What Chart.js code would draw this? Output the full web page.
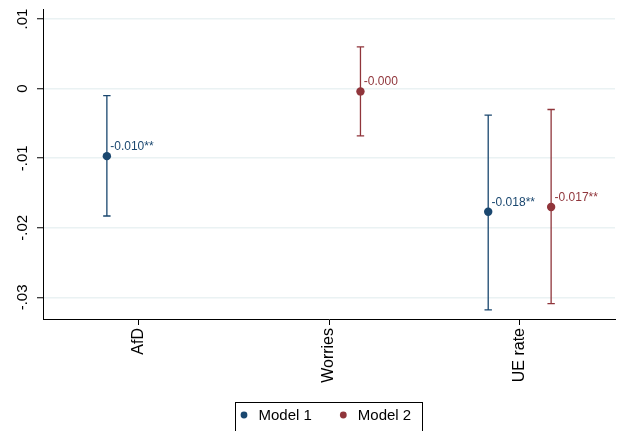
<!DOCTYPE html>
<html>
<head>
<meta charset="utf-8">
<script src="https://cdn.jsdelivr.net/npm/chart.js@4"></script>
<style>
  html, body { margin: 0; padding: 0; background: #fff; }
  #wrap { width: 620px; height: 431px; position: relative; }
</style>
</head>
<body>
<div id="wrap"><canvas id="coefChart"></canvas></div>
<script>
'use strict';

// ===== DATA =====
const categories = ['AfD', 'Worries', 'UE rate'];
const seriesNames = ['Model 1', 'Model 2'];

// point estimates, null where the model has no coefficient
const model1Coef = [-0.0097, null, -0.0177];
const model2Coef = [null, -0.0004, -0.0170];

// 95% confidence bounds
const model1Low  = [-0.0183, null, -0.0318];
const model1High = [-0.0010, null, -0.0038];
const model2Low  = [null, -0.0068, -0.0309];
const model2High = [null, 0.0060, -0.0030];

// text printed beside each point
const model1Text = ['-0.010**', null, '-0.018**'];
const model2Text = [null, '-0.000', '-0.017**'];

const yTicks = [-0.03, -0.02, -0.01, 0, 0.01];

// ===== STYLE =====
const FONT = '"Liberation Sans", Arial, sans-serif';
const COLORS = ['#1a476f', '#90353b'];
const GRID = '#eaf2f3';
const GROUP_SHIFT = 0.165;   // horizontal dodge of each model inside a category

const models = [
  { coef: model1Coef, low: model1Low, high: model1High, text: model1Text },
  { coef: model2Coef, low: model2Low, high: model2High, text: model2Text }
];

function xFor(i, m) {
  return i + 1 + (m === 0 ? -GROUP_SHIFT : GROUP_SHIFT);
}

const datasets = models.map((mod, m) => ({
  label: seriesNames[m],
  data: categories
    .map((_, i) => mod.coef[i] == null ? null : { x: xFor(i, m), y: mod.coef[i] })
    .filter(p => p),
  backgroundColor: COLORS[m],
  borderWidth: 0,
  pointRadius: 4.2,
  pointHoverRadius: 4.2
}));

// ===== PLUGINS =====
// error bars, drawn under the points
const errorBars = {
  id: 'errorBars',
  beforeDatasetsDraw(chart) {
    const { ctx, scales: { x, y } } = chart;
    ctx.save();
    ctx.lineWidth = 1.3;
    models.forEach((mod, m) => {
      ctx.strokeStyle = COLORS[m];
      categories.forEach((_, i) => {
        if (mod.coef[i] == null) return;
        const px = x.getPixelForValue(xFor(i, m));
        const top = y.getPixelForValue(mod.high[i]);
        const bot = y.getPixelForValue(mod.low[i]);
        ctx.beginPath();
        ctx.moveTo(px, top); ctx.lineTo(px, bot);
        ctx.moveTo(px - 3.7, top); ctx.lineTo(px + 3.7, top);
        ctx.moveTo(px - 3.7, bot); ctx.lineTo(px + 3.7, bot);
        ctx.stroke();
      });
    });
    ctx.restore();
  },
  afterDatasetsDraw(chart) {
    const { ctx, scales: { x, y } } = chart;
    ctx.save();
    ctx.font = '12px ' + FONT;
    ctx.textAlign = 'left';
    ctx.textBaseline = 'alphabetic';
    models.forEach((mod, m) => {
      ctx.fillStyle = COLORS[m];
      categories.forEach((_, i) => {
        if (!mod.text[i]) return;
        const px = x.getPixelForValue(xFor(i, m));
        const py = y.getPixelForValue(mod.coef[i]);
        ctx.fillText(mod.text[i], px + 3.4, py - 6);
      });
    });
    ctx.restore();
  }
};

// rotated y tick labels, Stata style
const yLabels = {
  id: 'yLabels',
  afterDraw(chart) {
    const { ctx, scales: { y } } = chart;
    ctx.save();
    ctx.font = '15px ' + FONT;
    ctx.fillStyle = '#000';
    ctx.textAlign = 'center';
    ctx.textBaseline = 'middle';
    y.ticks.forEach(t => {
      const py = y.getPixelForValue(t.value);
      const txt = t.value === 0 ? '0' : t.value.toFixed(2).replace('0.', '.');
      ctx.save();
      ctx.translate(23, py);
      ctx.rotate(-Math.PI / 2);
      ctx.fillText(txt, 0, 0);
      ctx.restore();
    });
    ctx.restore();
  }
};

// boxed legend under the chart
const boxLegend = {
  id: 'boxLegend',
  afterDraw(chart) {
    const { ctx } = chart;
    ctx.save();
    ctx.strokeStyle = '#000';
    ctx.lineWidth = 1;
    ctx.strokeRect(235.5, 402.5, 187, 40);
    ctx.font = '15px ' + FONT;
    ctx.textBaseline = 'middle';
    ctx.textAlign = 'left';
    const itemX = [244, 343.3];
    seriesNames.forEach((name, m) => {
      ctx.fillStyle = COLORS[m];
      ctx.beginPath();
      ctx.arc(itemX[m], 415, 3.4, 0, Math.PI * 2);
      ctx.fill();
      ctx.fillStyle = '#000';
      ctx.fillText(name, itemX[m] + 14.5, 415.5);
    });
    ctx.restore();
  }
};

// ===== CHART =====
new Chart(document.getElementById('coefChart'), {
  type: 'scatter',
  data: { datasets },
  options: {
    responsive: true,
    maintainAspectRatio: false,
    animation: false,
    events: [],
    layout: { padding: { top: 9, right: 5, left: 0, bottom: 0 } },
    plugins: {
      legend: { display: false },
      tooltip: { enabled: false }
    },
    scales: {
      x: {
        type: 'linear',
        min: 0.5,
        max: 3.5,
        afterBuildTicks: s => { s.ticks = categories.map((_, i) => ({ value: i + 1 })); },
        afterFit: s => { s.height = 112; },
        ticks: {
          callback: v => categories[v - 1],
          minRotation: 90,
          maxRotation: 90,
          padding: 3,
          color: '#000',
          font: { family: FONT, size: 16 }
        },
        grid: { drawOnChartArea: false, tickLength: 6, tickColor: '#000', tickWidth: 1 },
        border: { color: '#000', width: 1 }
      },
      y: {
        min: -0.0331,
        max: 0.01144,
        afterBuildTicks: s => { s.ticks = yTicks.map(v => ({ value: v })); },
        afterFit: s => { s.width = 43; },
        ticks: { display: false },
        grid: { color: GRID, lineWidth: 1.5, tickLength: 6, tickColor: '#000', tickWidth: 1 },
        border: { color: '#000', width: 1 }
      }
    }
  },
  plugins: [errorBars, yLabels, boxLegend]
});
</script>
</body>
</html>
